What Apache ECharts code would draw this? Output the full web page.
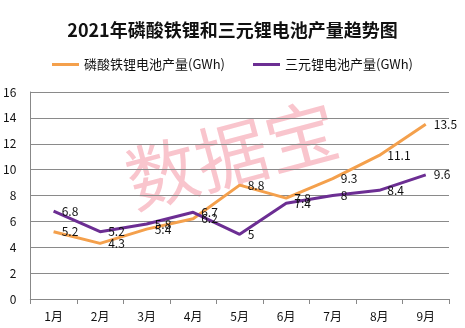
<!DOCTYPE html>
<html><head><meta charset="utf-8">
<script src="https://cdn.jsdelivr.net/npm/echarts@6/dist/echarts.min.js"></script>
<style>html,body{margin:0;padding:0;background:#fff}#c{width:465px;height:328px}</style>
</head><body><div id="c"></div>
<script>
const categories = ['1月','2月','3月','4月','5月','6月','7月','8月','9月'];
const lfpValues = [5.2, 4.3, 5.4, 6.2, 8.8, 7.8, 9.3, 11.1, 13.5];
const nmcValues = [6.8, 5.2, 5.8, 6.7, 5.0, 7.4, 8.0, 8.4, 9.6];
const seriesNames = ['磷酸铁锂电池产量(GWh)', '三元锂电池产量(GWh)'];
const titleText = '2021年磷酸铁锂和三元锂电池产量趋势图';
const watermarkText = '数据宝';

const font = '"Noto Sans CJK SC", "Noto Sans", sans-serif';
const chart = echarts.init(document.getElementById('c'));
const label = {show: true, position: 'right', distance: 8, color: '#111', fontSize: 12, fontFamily: font};
chart.setOption({
  backgroundColor: '#fff',
  animation: false,
  title: {text: titleText, left: 'center', top: 16, textStyle: {fontSize: 18, fontWeight: 'bold', color: '#111', fontFamily: font}},
  legend: {top: 53, left: 'center', itemGap: 28, itemWidth: 27, itemHeight: 3, icon: 'rect',
    textStyle: {fontSize: 13, color: '#111', fontFamily: font}, data: seriesNames},
  grid: {left: 30, right: 16, top: 92, bottom: 29},
  xAxis: {type: 'category', data: categories, boundaryGap: true,
    axisLine: {lineStyle: {color: '#888'}}, axisTick: {show: true, length: 5, lineStyle: {color: '#888'}},
    axisLabel: {color: '#111', fontSize: 12, margin: 11, fontFamily: font}},
  yAxis: {type: 'value', min: 0, max: 16, interval: 2,
    axisLine: {show: true, lineStyle: {color: '#888'}},
    axisLabel: {color: '#111', fontSize: 12, margin: 14, fontFamily: font},
    splitLine: {lineStyle: {color: '#8a8a8a'}}},
  graphic: [{type: 'text', left: 118, top: 92, rotation: Math.PI / 12, z: 0,
    style: {text: watermarkText, fontSize: 72, fill: 'rgba(240,110,130,0.4)', fontFamily: font}}],
  series: [
    {name: seriesNames[0], type: 'line', data: lfpValues, symbol: 'circle', symbolSize: 0.1, showSymbol: true, z: 3,
      lineStyle: {color: '#F4A04C', width: 3}, itemStyle: {color: '#F4A04C'}, label: label, labelLayout: {hideOverlap: false}},
    {name: seriesNames[1], type: 'line', data: nmcValues, symbol: 'circle', symbolSize: 0.1, showSymbol: true, z: 3,
      lineStyle: {color: '#6C2E93', width: 3}, itemStyle: {color: '#6C2E93'}, label: label, labelLayout: {hideOverlap: false}}
  ]
});
</script></body></html>
